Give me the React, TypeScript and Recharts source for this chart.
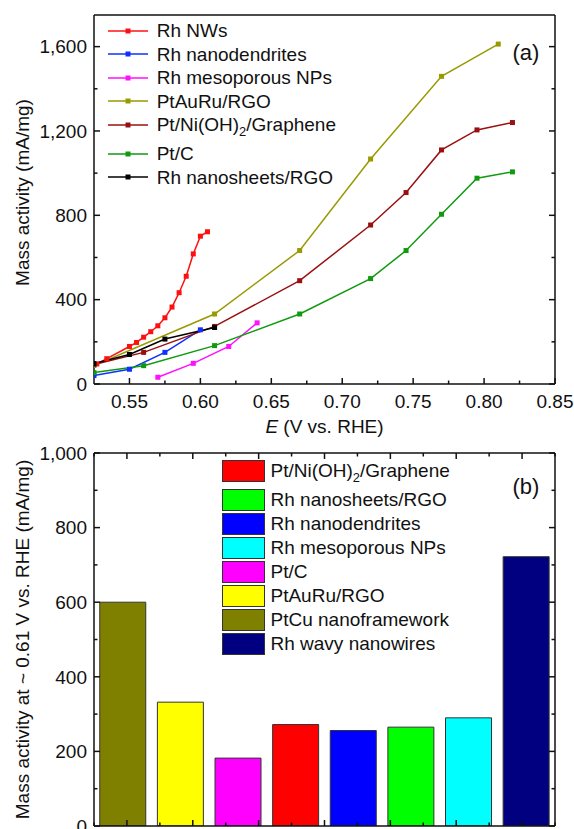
import React from "react";
import { LineChart, Line, XAxis, YAxis, BarChart, Bar, Cell } from "recharts";

const FONT = "'Liberation Sans', Arial, Helvetica, sans-serif";

// (a) mass activity vs potential, one pair of arrays per catalyst
const nwE = [0.527, 0.534, 0.55, 0.555, 0.56, 0.565, 0.57, 0.575, 0.58, 0.585, 0.59, 0.595, 0.6, 0.605];
const nwMA = [95, 120, 178, 197, 222, 248, 276, 314, 365, 433, 511, 617, 701, 722];
const dendE = [0.525, 0.55, 0.575, 0.6];
const dendMA = [40, 70, 150, 257];
const mesoE = [0.57, 0.595, 0.62, 0.64];
const mesoMA = [32, 98, 178, 290];
const ptAuRuE = [0.525, 0.61, 0.67, 0.72, 0.77, 0.81];
const ptAuRuMA = [88, 332, 633, 1067, 1459, 1612];
const ptNiE = [0.525, 0.56, 0.61, 0.67, 0.72, 0.745, 0.77, 0.795, 0.82];
const ptNiMA = [92, 150, 273, 490, 754, 908, 1110, 1205, 1240];
const ptCE = [0.525, 0.56, 0.61, 0.67, 0.72, 0.745, 0.77, 0.795, 0.82];
const ptCMA = [54, 87, 182, 332, 500, 633, 805, 976, 1006];
const sheetE = [0.525, 0.55, 0.575, 0.61];
const sheetMA = [97, 140, 213, 268];

const xMajorA = [0.55, 0.6, 0.65, 0.7, 0.75, 0.8, 0.85];
const xMinorA = [0.575, 0.625, 0.675, 0.725, 0.775, 0.825];
const yMajorA = [0, 400, 800, 1200, 1600];
const yMinorA = [200, 600, 1000, 1400];

// (b) mass activity at ~0.61 V
const catalysts = [
  "PtCu nanoframework",
  "PtAuRu/RGO",
  "Pt/C",
  "Pt/Ni(OH)2/Graphene",
  "Rh nanodendrites",
  "Rh nanosheets/RGO",
  "Rh mesoporous NPs",
  "Rh wavy nanowires",
];
const activity061 = [600, 332, 182, 272, 256, 265, 290, 722];
const barColors = ["#808000", "#ffff00", "#ff00ff", "#ff0000", "#0000ff", "#00ff00", "#00ffff", "#000080"];
const legendOrderB = [3, 5, 4, 6, 2, 1, 0, 7];
const yMajorB = [0, 200, 400, 600, 800, 1000];
const yMinorB = [100, 300, 500, 700, 900];

const zip = (e: number[], ma: number[]) => e.map((v, i) => ({ e: v, ma: ma[i] }));

const seriesA = [
  { name: "Rh NWs", color: "#ff1010", data: zip(nwE, nwMA) },
  { name: "Rh nanodendrites", color: "#1030ff", data: zip(dendE, dendMA) },
  { name: "Rh mesoporous NPs", color: "#ff10ff", data: zip(mesoE, mesoMA) },
  { name: "PtAuRu/RGO", color: "#999900", data: zip(ptAuRuE, ptAuRuMA) },
  { name: "Pt/Ni(OH)2/Graphene", color: "#9a1010", data: zip(ptNiE, ptNiMA) },
  { name: "Pt/C", color: "#109a10", data: zip(ptCE, ptCMA) },
  { name: "Rh nanosheets/RGO", color: "#000000", data: zip(sheetE, sheetMA) },
];

const barData = catalysts.map((name, i) => ({ name, value: activity061[i] }));
const catTicks = Array.from({ length: catalysts.length * 2 + 1 }, (_, i) => i / 2);

const sortNum = (a: number[]) => [...a].sort((p, q) => p - q);
const isIn = (list: number[], v: number) => list.some((m) => Math.abs(m - v) < 1e-9);

const AXIS = "#111";
const TICK_FS = 19;

// custom ticks: inward tick marks, labels only on major ticks
function makeTick(side: "left" | "right" | "top" | "bottom", majors: number[], label?: (v: number) => string) {
  return (props: any) => {
    const { x, y, payload, index } = props;
    const v = payload.value;
    const major = isIn(majors, v);
    const len = major ? 6 : 3.5;
    let line;
    if (side === "left") line = <line x1={x} x2={x + len} y1={y} y2={y} />;
    else if (side === "right") line = <line x1={x} x2={x - len} y1={y} y2={y} />;
    else if (side === "top") line = <line x1={x} x2={x} y1={y} y2={y + len} />;
    else line = <line x1={x} x2={x} y1={y} y2={y - len} />;
    let text = null;
    if (major && label) {
      if (side === "left")
        text = (
          <text x={x - 7} y={y} dy="0.36em" textAnchor="end" fill="#111" stroke="none" fontSize={TICK_FS} fontFamily={FONT}>
            {label(v)}
          </text>
        );
      else if (side === "bottom")
        text = (
          <text x={x} y={y + 24} textAnchor="middle" fill="#111" stroke="none" fontSize={TICK_FS} fontFamily={FONT}>
            {label(v)}
          </text>
        );
    }
    return (
      <g key={`t-${side}-${index}`} stroke={AXIS} strokeWidth={1.5}>
        {line}
        {text}
      </g>
    );
  };
}

const fmtThousands = (v: number) => v.toLocaleString("en-US");

function YTitle(props: any) {
  const { viewBox, text, shift = 0 } = props;
  const cx = 22;
  const cy = viewBox.y + viewBox.height / 2 + shift;
  return (
    <text
      x={cx}
      y={cy}
      transform={`rotate(-90 ${cx} ${cy})`}
      textAnchor="middle"
      dominantBaseline="central"
      fontSize={19}
      fontFamily={FONT}
      fill="#111"
    >
      {text}
    </text>
  );
}

function XTitle(props: any) {
  const { viewBox } = props;
  return (
    <text x={viewBox.x + viewBox.width / 2} y={viewBox.y + 49} textAnchor="middle" fontSize={19} fontFamily={FONT} fill="#111">
      <tspan fontStyle="italic">E</tspan> (V vs. RHE)
    </text>
  );
}

function chem(name: string) {
  const i = name.indexOf("(OH)2");
  if (i < 0) return name;
  return (
    <>
      {name.slice(0, i)}(OH)
      <sub style={{ fontSize: "0.68em", lineHeight: 0, verticalAlign: "-0.35em" }}>2</sub>
      {name.slice(i + 5)}
    </>
  );
}

function SquareDot(color: string) {
  return (p: any) => (
    <rect key={`d-${p.index}`} x={p.cx - 2.5} y={p.cy - 2.5} width={5} height={5} fill={color} />
  );
}

function TopLegend() {
  return (
    <div style={{ position: "absolute", left: 108, top: 19, fontFamily: FONT, fontSize: 19, color: "#111" }}>
      {seriesA.map((s) => (
        <div
          key={s.name}
          style={{
            height: 23.5,
            display: "flex",
            alignItems: "center",
            marginBottom: s.name.includes("(OH)2") ? 5.5 : 0,
            whiteSpace: "nowrap",
          }}
        >
          <svg width={40} height={10} style={{ display: "block" }}>
            <line x1={0} x2={40} y1={5} y2={5} stroke={s.color} strokeWidth={1.5} />
            <rect x={17.5} y={2.5} width={5} height={5} fill={s.color} />
          </svg>
          <span style={{ marginLeft: 8.7, lineHeight: 1 }}>{chem(s.name)}</span>
        </div>
      ))}
    </div>
  );
}

function BottomLegend() {
  return (
    <div style={{ position: "absolute", left: 222, top: 460, fontFamily: FONT, fontSize: 19, color: "#111" }}>
      {legendOrderB.map((idx, k) => (
        <div
          key={catalysts[idx]}
          style={{ height: 24, display: "flex", alignItems: "flex-start", marginBottom: k === 0 ? 5 : 0, whiteSpace: "nowrap" }}
        >
          <div
            style={{
              width: 41,
              height: 20,
              background: barColors[idx],
              border: "1px solid #333",
              flex: "none",
            }}
          />
          <span style={{ marginLeft: 5.5, lineHeight: "22px" }}>{chem(catalysts[idx])}</span>
        </div>
      ))}
    </div>
  );
}

const panelTag = (top: number, text: string) => (
  <div
    style={{
      position: "absolute",
      left: 505,
      top,
      width: 42,
      textAlign: "center",
      fontFamily: FONT,
      fontSize: 22,
      color: "#111",
      lineHeight: "26px",
    }}
  >
    {text}
  </div>
);

export default function App() {
  const xTicksA = sortNum([...xMajorA, ...xMinorA]);
  const yTicksA = sortNum([...yMajorA, ...yMinorA]);
  const yTicksB = sortNum([...yMajorB, ...yMinorB]);
  const catMajors = catTicks.filter((t) => t % 1 !== 0);

  return (
    <div style={{ position: "absolute", left: 0, top: 0, width: 574, height: 829, background: "#fff", overflow: "hidden" }}>
      <div style={{ position: "absolute", left: 0, top: 0 }}>
        <LineChart width={574} height={440} margin={{ top: 14, right: 18, bottom: 0, left: 0 }}>
          <XAxis
            dataKey="e"
            type="number"
            domain={[0.525, 0.85]}
            allowDataOverflow
            ticks={xTicksA}
            interval={0}
            height={56}
            tickSize={0}
            tickMargin={0}
            tickLine={false}
            stroke={AXIS}
            strokeWidth={1.5}
            tick={makeTick("bottom", xMajorA, (v) => v.toFixed(2))}
            label={<XTitle />}
          />
          <XAxis
            xAxisId="top"
            orientation="top"
            type="number"
            domain={[0.525, 0.85]}
            allowDataOverflow
            ticks={xTicksA}
            interval={0}
            height={1}
            tickSize={0}
            tickMargin={0}
            tickLine={false}
            stroke={AXIS}
            strokeWidth={1.5}
            tick={makeTick("top", xMajorA)}
          />
          <YAxis
            type="number"
            domain={[0, 1750]}
            allowDataOverflow
            ticks={yTicksA}
            interval={0}
            width={94}
            tickSize={0}
            tickMargin={0}
            tickLine={false}
            stroke={AXIS}
            strokeWidth={1.5}
            tick={makeTick("left", yMajorA, fmtThousands)}
            label={<YTitle text="Mass activity (mA/mg)" shift={-7} />}
          />
          <YAxis
            yAxisId="right"
            orientation="right"
            type="number"
            domain={[0, 1750]}
            allowDataOverflow
            ticks={yTicksA}
            interval={0}
            width={1}
            tickSize={0}
            tickMargin={0}
            tickLine={false}
            stroke={AXIS}
            strokeWidth={1.5}
            tick={makeTick("right", yMajorA)}
          />
          {seriesA.map((s) => (
            <Line
              key={s.name}
              data={s.data}
              dataKey="ma"
              type="linear"
              stroke={s.color}
              strokeWidth={1.5}
              dot={SquareDot(s.color)}
              activeDot={false}
              isAnimationActive={false}
            />
          ))}
        </LineChart>
      </div>
      <TopLegend />
      {panelTag(40, "(a)")}

      <div style={{ position: "absolute", left: 0, top: 440 }}>
        <BarChart
          width={574}
          height={389}
          data={barData}
          margin={{ top: 12, right: 18, bottom: 0, left: 0 }}
          barCategoryGap="10%"
        >
          <XAxis xAxisId="cat" dataKey="name" hide />
          <XAxis
            xAxisId="bt"
            type="number"
            domain={[0, catalysts.length]}
            allowDataOverflow
            ticks={catTicks}
            interval={0}
            height={3}
            tickSize={0}
            tickMargin={0}
            tickLine={false}
            stroke={AXIS}
            strokeWidth={1.5}
            tick={makeTick("bottom", catMajors)}
          />
          <XAxis
            xAxisId="tt"
            orientation="top"
            type="number"
            domain={[0, catalysts.length]}
            allowDataOverflow
            ticks={catTicks}
            interval={0}
            height={1}
            tickSize={0}
            tickMargin={0}
            tickLine={false}
            stroke={AXIS}
            strokeWidth={1.5}
            tick={makeTick("top", catMajors)}
          />
          <YAxis
            type="number"
            domain={[0, 1000]}
            allowDataOverflow
            ticks={yTicksB}
            interval={0}
            width={94}
            tickSize={0}
            tickMargin={0}
            tickLine={false}
            stroke={AXIS}
            strokeWidth={1.5}
            tick={makeTick("left", yMajorB, fmtThousands)}
            label={<YTitle text="Mass activity at ~ 0.61 V vs. RHE (mA/mg)" />}
          />
          <YAxis
            yAxisId="right"
            orientation="right"
            type="number"
            domain={[0, 1000]}
            allowDataOverflow
            ticks={yTicksB}
            interval={0}
            width={1}
            tickSize={0}
            tickMargin={0}
            tickLine={false}
            stroke={AXIS}
            strokeWidth={1.5}
            tick={makeTick("right", yMajorB)}
          />
          <Bar xAxisId="cat" dataKey="value" stroke="#333" strokeWidth={1} isAnimationActive={false}>
            {barData.map((_d, i) => (
              <Cell key={`c-${i}`} fill={barColors[i]} />
            ))}
          </Bar>
        </BarChart>
      </div>
      <BottomLegend />
      {panelTag(474, "(b)")}
    </div>
  );
}
